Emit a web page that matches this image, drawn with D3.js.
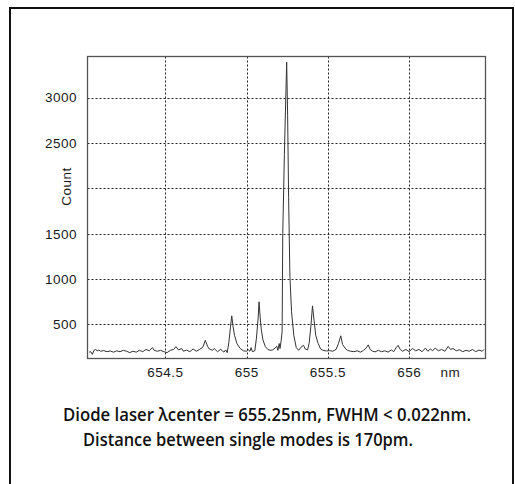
<!DOCTYPE html>
<html>
<head>
<meta charset="utf-8">
<script src="https://cdn.jsdelivr.net/npm/d3@7"></script>
<style>
  body { margin: 0; background: #fff; }
  svg { display: block; }
</style>
</head>
<body>
<div id="chart"></div>
<script>
// spectrum: wavelength (nm) and counts
var wavelength = [
  654.03, 654.04, 654.05, 654.06, 654.07, 654.08, 654.09, 654.10, 654.12, 654.14,
  654.16, 654.18, 654.20, 654.22, 654.24, 654.26, 654.28, 654.30, 654.32, 654.34,
  654.36, 654.38, 654.40, 654.42, 654.43, 654.45, 654.47, 654.49, 654.51, 654.53,
  654.55, 654.565, 654.58, 654.60, 654.61, 654.63, 654.65, 654.67, 654.69, 654.71,
  654.73, 654.745, 654.76, 654.77, 654.79, 654.80, 654.82, 654.84, 654.86, 654.87,
  654.88, 654.89, 654.90, 654.908, 654.915, 654.925, 654.94, 654.96, 654.98, 655.00,
  655.01, 655.02, 655.027, 655.035, 655.05, 655.06, 655.07, 655.076, 655.083, 655.09,
  655.10, 655.115, 655.13, 655.145, 655.16, 655.175, 655.185, 655.192, 655.20, 655.205,
  655.212, 655.218, 655.222, 655.232, 655.246, 655.252, 655.258, 655.266, 655.276, 655.29,
  655.305, 655.32, 655.335, 655.35, 655.36, 655.375, 655.385, 655.395, 655.405, 655.415,
  655.425, 655.44, 655.455, 655.47, 655.49, 655.51, 655.53, 655.55, 655.565, 655.579,
  655.59, 655.605, 655.62, 655.64, 655.66, 655.68, 655.70, 655.72, 655.735, 655.748,
  655.76, 655.775, 655.79, 655.81, 655.83, 655.85, 655.87, 655.89, 655.905, 655.92,
  655.932, 655.945, 655.96, 655.98, 656.00, 656.02, 656.04, 656.06, 656.08, 656.10,
  656.115, 656.13, 656.145, 656.16, 656.18, 656.20, 656.22, 656.24, 656.255, 656.27,
  656.29, 656.31, 656.33, 656.35, 656.37, 656.39, 656.41, 656.43, 656.45, 656.46
];
var counts = [
  195, 200, 170, 215, 225, 210, 218, 205, 212, 200,
  208, 195, 210, 200, 215, 205, 190, 205, 195, 215,
  200, 225, 210, 245, 215, 205, 215, 200, 190, 215,
  225, 255, 220, 235, 205, 218, 200, 230, 205, 225,
  250, 325, 255, 230, 215, 235, 200, 225, 195, 220,
  190, 300, 470, 595, 490, 380, 290, 235, 210, 205,
  220, 205, 245, 200, 210, 350, 560, 750, 580, 440,
  330, 255, 225, 215, 220, 240, 260, 215, 290, 235,
  320, 420, 1500, 2370, 3390, 2800, 1900, 1030, 640, 380,
  245, 215, 250, 270, 230, 220, 300, 480, 705, 540,
  380, 290, 230, 215, 208, 212, 205, 225, 290, 375,
  280, 240, 215, 205, 200, 210, 195, 215, 240, 275,
  225, 205, 198, 215, 200, 210, 195, 220, 200, 245,
  270, 225, 205, 225, 200, 235, 210, 225, 200, 240,
  205, 230, 210, 240, 210, 225, 205, 258, 225, 235,
  210, 222, 200, 215, 205, 225, 200, 218, 205, 225
];

var xTicks = [654.5, 655, 655.5, 656];
var xTickLabels = ["654.5", "655", "655.5", "656"];
var yTicks = [500, 1000, 1500, 2000, 2500, 3000];
var yTickLabels = ["500", "1000", "1500", "", "2500", "3000"];
var captionLines = [
  "Diode laser \u03bbcenter = 655.25nm, FWHM < 0.022nm.",
  "Distance between single modes is 170pm."
];

var W = 515, H = 484;
var plot = { left: 87.5, top: 56.5, right: 485.5, bottom: 358.5 };

var svg = d3.select("#chart").append("svg")
    .attr("width", W)
    .attr("height", H);

// outer frame (runs off the bottom of the picture)
svg.append("rect")
    .attr("x", 10)
    .attr("y", 8)
    .attr("width", 503)
    .attr("height", 500)
    .attr("fill", "#fff")
    .attr("stroke", "#111")
    .attr("stroke-width", 2);

var x = d3.scaleLinear()
    .domain([654.02, 656.47])
    .range([plot.left, plot.right]);
var y = d3.scaleLinear()
    .domain([125, 3452])
    .range([plot.bottom, plot.top]);

// dotted grid
var grid = svg.append("g")
    .attr("stroke", "#222")
    .attr("stroke-width", 1)
    .attr("stroke-dasharray", "2,2");

grid.selectAll("line.gx")
    .data(xTicks)
    .join("line")
    .attr("class", "gx")
    .attr("x1", d => Math.round(x(d)) + 0.5)
    .attr("x2", d => Math.round(x(d)) + 0.5)
    .attr("y1", plot.top)
    .attr("y2", plot.bottom);

grid.selectAll("line.gy")
    .data(yTicks)
    .join("line")
    .attr("class", "gy")
    .attr("x1", plot.left)
    .attr("x2", plot.right)
    .attr("y1", d => Math.round(y(d)) + 0.5)
    .attr("y2", d => Math.round(y(d)) + 0.5);

// plot box
svg.append("rect")
    .attr("x", plot.left)
    .attr("y", plot.top)
    .attr("width", plot.right - plot.left)
    .attr("height", plot.bottom - plot.top)
    .attr("fill", "none")
    .attr("stroke", "#555")
    .attr("stroke-width", 1.3);

// spectrum trace
var pts = wavelength.map((w, i) => [w, counts[i]]);
var line = d3.line()
    .x(d => x(d[0]))
    .y(d => y(d[1]));

svg.append("path")
    .datum(pts)
    .attr("fill", "none")
    .attr("stroke", "#333")
    .attr("stroke-width", 1)
    .attr("stroke-linejoin", "round")
    .attr("d", line);

// tick labels
var tickFont = "'Liberation Sans', Arial, sans-serif";

function label(sel) {
    sel.attr("font-family", tickFont)
        .attr("font-size", 13.5)
        .attr("letter-spacing", 0.5)
        .attr("fill", "#1a1a1a");
}

svg.append("g").selectAll("text")
    .data(yTicks)
    .join("text")
    .attr("x", 77)
    .attr("y", d => y(d))
    .attr("dy", "0.36em")
    .attr("text-anchor", "end")
    .call(label)
    .text((d, i) => yTickLabels[i]);

svg.append("g").selectAll("text")
    .data(xTicks)
    .join("text")
    .attr("x", d => x(d))
    .attr("y", 377)
    .attr("text-anchor", "middle")
    .call(label)
    .text((d, i) => xTickLabels[i]);

svg.append("text")
    .attr("x", 450.5)
    .attr("y", 377)
    .attr("text-anchor", "middle")
    .call(label)
    .text("nm");

svg.append("text")
    .attr("transform", "translate(71,186.5) rotate(-90)")
    .attr("text-anchor", "middle")
    .call(label)
    .text("Count");

// caption
svg.append("text")
    .attr("x", 63)
    .attr("y", 421)
    .attr("font-family", "'Open Sans', 'Noto Sans', sans-serif")
    .attr("font-weight", 600)
    .attr("font-size", 17.5)
    .attr("fill", "#111")
    .attr("textLength", 408)
    .attr("lengthAdjust", "spacingAndGlyphs")
    .text(captionLines[0]);

svg.append("text")
    .attr("x", 83)
    .attr("y", 446)
    .attr("font-family", "'Open Sans', 'Noto Sans', sans-serif")
    .attr("font-weight", 600)
    .attr("font-size", 17.5)
    .attr("fill", "#111")
    .attr("textLength", 330)
    .attr("lengthAdjust", "spacingAndGlyphs")
    .text(captionLines[1]);
</script>
</body>
</html>
